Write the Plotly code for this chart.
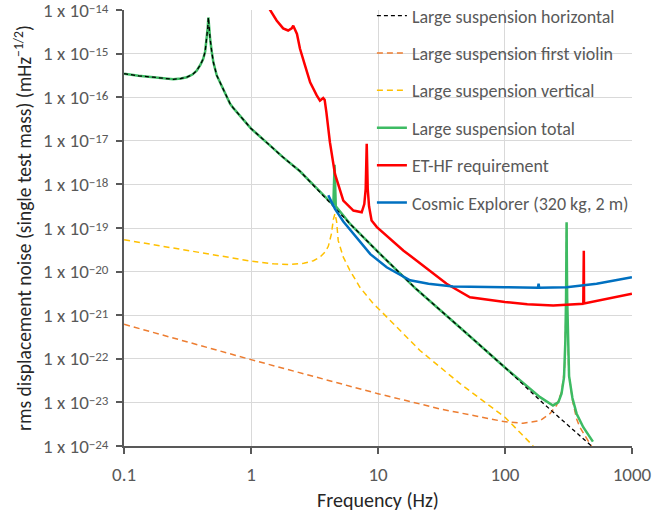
import plotly.graph_objects as go

# ---------------- data ----------------
horiz_f = [0.1, 0.13, 0.17, 0.21, 0.244, 0.28, 0.312, 0.345, 0.373, 0.40, 0.42, 0.435,
           0.448, 0.456, 0.461, 0.467, 0.476, 0.49, 0.505, 0.537, 0.57, 0.62, 0.684,
           0.726, 0.85, 1.0, 1.4, 1.79, 2.43, 3.0, 4.19, 6.0, 10, 20, 50, 100, 200,
           300, 400, 480]
horiz_v = [3.47e-16, 3.09e-16, 2.88e-16, 2.69e-16, 2.57e-16, 2.69e-16, 2.88e-16, 3.31e-16,
           4.07e-16, 5.62e-16, 7.59e-16, 1.12e-15, 2.19e-15, 3.98e-15, 6.76e-15, 3.98e-15,
           2.19e-15, 1.12e-15, 6.31e-16, 3.16e-16, 2.19e-16, 1.26e-16, 7.08e-17, 5.62e-17,
           3.39e-17, 1.91e-17, 7.94e-18, 4.17e-18, 2.0e-18, 1.05e-18, 3.98e-19, 1.26e-19,
           2.82e-20, 3.98e-21, 3.8e-22, 6.31e-23, 9.55e-24, 3.31e-24, 1.58e-24, 1.0e-24]

total_f = [0.1, 0.13, 0.17, 0.21, 0.244, 0.28, 0.312, 0.345, 0.373, 0.40, 0.42, 0.435,
           0.448, 0.456, 0.461, 0.467, 0.476, 0.49, 0.505, 0.537, 0.57, 0.62, 0.684,
           0.726, 0.85, 1.0, 1.4, 1.79, 2.43, 3.0, 4.19, 4.45, 4.55, 4.65, 6.0, 10, 20,
           50, 100, 189, 239, 263, 279, 292, 299, 303, 305, 306, 307, 309, 313, 320, 340,
           367, 414, 493]
total_v = [3.47e-16, 3.09e-16, 2.88e-16, 2.69e-16, 2.57e-16, 2.69e-16, 2.88e-16, 3.31e-16,
           4.07e-16, 5.62e-16, 7.59e-16, 1.12e-15, 2.19e-15, 3.98e-15, 6.76e-15, 3.98e-15,
           2.19e-15, 1.12e-15, 6.31e-16, 3.16e-16, 2.19e-16, 1.26e-16, 7.08e-17, 5.62e-17,
           3.39e-17, 1.91e-17, 7.94e-18, 4.17e-18, 2.0e-18, 1.05e-18, 3.98e-19, 3.39e-19,
           2.82e-18, 3.16e-19, 1.26e-19, 2.82e-20, 3.98e-21, 3.8e-22, 6.31e-23, 1.32e-23,
           8.51e-24, 1.0e-23, 1.58e-23, 3.8e-23, 2.51e-22, 2.51e-21, 2.51e-20, 1.35e-19,
           2.51e-20, 2.51e-21, 2.51e-22, 3.98e-23, 1.26e-23, 5.5e-24, 2.69e-24, 1.26e-24]

violin_f = [0.1, 1, 10, 30.8, 98, 139, 189, 226, 255, 280, 295, 302, 306, 310, 318, 340,
            367, 389, 467, 485]
violin_v = [6.17e-22, 9.55e-23, 1.58e-23, 7.08e-24, 3.63e-24, 3.31e-24, 3.8e-24, 5.5e-24,
            8.51e-24, 1.78e-23, 6.31e-23, 1.0e-21, 1.26e-19, 1.0e-21, 5.01e-23, 1.12e-23,
            4.17e-24, 2.69e-24, 1.12e-24, 9.5e-25]

vert_f = [0.1, 1, 1.5, 2.03, 2.6, 3.1, 3.49, 3.83, 4.06, 4.3, 4.45, 4.58, 4.72, 4.86,
          5.33, 6.0, 7.2, 9.2, 10.4, 21.4, 44.3, 100, 167]
vert_v = [5.37e-20, 1.74e-20, 1.51e-20, 1.45e-20, 1.55e-20, 1.78e-20, 2.14e-20, 2.82e-20,
          3.8e-20, 7.41e-20, 1.58e-19, 2.14e-19, 1.41e-19, 5.13e-20, 2.14e-20, 1.07e-20,
          4.37e-21, 1.82e-21, 1.29e-21, 1.55e-22, 2.69e-23, 4.57e-24, 1.0e-24]

ethf_f = [1.38, 1.59, 1.79, 1.96, 2.09, 2.15, 2.3, 2.43, 2.66, 2.92, 3.29, 3.49, 3.7, 3.8,
          3.92, 4.18, 4.58, 5.33, 6.4, 7.44, 7.8, 8.0, 8.15, 8.3, 8.5, 8.9, 9.8, 15.9,
          20.2, 34.7, 53, 100, 150, 240, 414, 418, 420, 1000]
ethf_v = [1.12e-14, 5.75e-15, 3.8e-15, 3.39e-15, 3.8e-15, 4.37e-15, 2.82e-15, 1.29e-15,
          5.37e-16, 2.19e-16, 1.1e-16, 8.32e-17, 9.55e-17, 8.71e-17, 4.57e-17, 9.33e-18,
          1.74e-18, 4.27e-19, 2.51e-19, 2.29e-19, 3.55e-19, 7.94e-19, 8.51e-18, 7.94e-19,
          3.16e-19, 1.48e-19, 1.05e-19, 3.02e-20, 1.78e-20, 5.25e-21, 2.57e-21, 2.0e-21,
          1.78e-21, 1.66e-21, 1.82e-21, 3.02e-20, 1.86e-21, 3.09e-21]

ce_f = [4.06, 4.58, 5.33, 6.4, 8.7, 11.7, 17.9, 25, 39, 100, 182, 184, 186, 306, 527, 1000]
ce_v = [5.62e-19, 2.75e-19, 1.41e-19, 7.41e-20, 2.51e-20, 1.26e-20, 6.31e-21, 5.25e-21,
        4.57e-21, 4.37e-21, 4.27e-21, 5.25e-21, 4.27e-21, 4.37e-21, 5.25e-21, 7.41e-21]

x_tickvals = [0.1, 1, 10, 100, 1000]
x_ticktext = ["0.1", "1", "10", "100", "1000"]
y_exponents = [-24, -23, -22, -21, -20, -19, -18, -17, -16, -15, -14]
y_tickvals = [10.0 ** e for e in y_exponents]
y_ticktext = ["1 x 10<span style='font-size:13px;baseline-shift:4px'>\u2212%d</span>" % (-e)
              for e in y_exponents]

names = ["Large suspension horizontal", "Large suspension first violin",
         "Large suspension vertical", "Large suspension total",
         "ET-HF requirement", "Cosmic Explorer (320 kg, 2 m)"]

# ---------------- figure ----------------
FONT = "Carlito, Lato, sans-serif"
fig = go.Figure()

def add(x, y, name, color, width, dash, rank):
    fig.add_trace(go.Scatter(
        x=x, y=y, mode="lines", name=name, legendrank=rank, legendgroup=name,
        line=dict(color=color, width=width, dash=dash)))

# drawing order (legend order set by legendrank)
add(violin_f, violin_v, names[1], "#ED7D31", 1.5, "6px,4px", 2)
add(vert_f, vert_v, names[2], "#FFC000", 1.5, "6px,4px", 3)
add(total_f, total_v, names[3], "#3DBB63", 2.5, "solid", 4)
add(horiz_f, horiz_v, names[0], "#000000", 1.3, "4px,3px", 1)
add(ethf_f, ethf_v, names[4], "#FF0000", 2.5, "solid", 5)
add(ce_f, ce_v, names[5], "#0070C0", 2.5, "solid", 6)

EPS = 0.0008
fig.update_layout(
    width=654, height=512,
    margin=dict(l=124, r=22, t=10, b=66, autoexpand=False),
    paper_bgcolor="white", plot_bgcolor="white",
    font=dict(family=FONT, size=18, color="#595959"),
    showlegend=True,
    legend=dict(x=0.488, y=1.029, xanchor="left", yanchor="top",
                bgcolor="rgba(0,0,0,0)", font=dict(size=18, color="#595959"),
                traceorder="grouped", tracegroupgap=11, itemwidth=30),
    xaxis=dict(type="log", range=[-1 - EPS, 3 + EPS], tickvals=x_tickvals, ticktext=x_ticktext,
               automargin=False, ticklabeloverflow="allow",
               showgrid=True, gridcolor="#D9D9D9", gridwidth=1,
               showline=True, linecolor="#595959", linewidth=1.5,
               ticks="outside", ticklen=6, tickcolor="#595959", tickwidth=1.5,
               ticklabelstandoff=4,
               tickfont=dict(size=19, color="#595959"),
               title=dict(text="Frequency (Hz)", font=dict(size=20, color="#262626"),
                          standoff=9)),
    yaxis=dict(type="log", range=[-24 - EPS, -14 + EPS], tickvals=y_tickvals, ticktext=y_ticktext,
               automargin=False, ticklabeloverflow="allow",
               showgrid=True, gridcolor="#D9D9D9", gridwidth=1,
               showline=True, linecolor="#595959", linewidth=1.5,
               ticks="outside", ticklen=6, tickcolor="#595959", tickwidth=1.5,
               ticklabelstandoff=4,
               tickfont=dict(size=19, color="#595959"),
               title=dict(text="rms displacement noise (single test mass) (mHz<sup>\u22121/2</sup>)",
                          font=dict(size=19.5, color="#262626"), standoff=6)),
)

fig.write_html("out.html", config={"displayModeBar": False},
               post_script="document.body.style.margin='0';")
